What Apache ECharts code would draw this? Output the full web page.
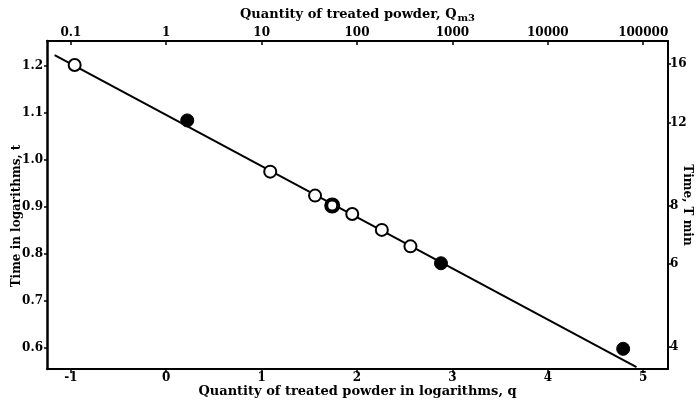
<!DOCTYPE html>
<html>
<head>
<meta charset="utf-8">
<script src="https://cdn.jsdelivr.net/npm/echarts@6/dist/echarts.min.js"></script>
<style>
html,body{margin:0;padding:0;background:#fff;}
#c{width:698px;height:405px;}
</style>
</head>
<body>
<div id="c"></div>
<script>
// Bottom axis: quantity in logarithms q
const qTicks = [-1, 0, 1, 2, 3, 4, 5];
// Top axis: quantity Q m3
const topTickLabels = ['0.1', '1', '10', '100', '1000', '10000', '100000'];
// Left axis: time in logarithms t
const tTicks = [0.6, 0.7, 0.8, 0.9, 1.0, 1.1, 1.2];
// Right axis: time T in minutes
const rightTickMinutes = [4, 6, 8, 12, 16];

// Open circles
const openQ = [-0.96, 1.09, 1.56, 1.95, 2.26, 2.56];
const openT = [1.202, 0.975, 0.924, 0.885, 0.851, 0.816];
// Partly filled circle
const halfQ = [1.74];
const halfT = [0.903];
// Filled circles
const filledQ = [0.22, 2.88, 4.79];
const filledT = [1.084, 0.780, 0.598];
// Fitted straight line
const fitQ = [-1.17, 4.93];
const fitT = [1.223, 0.559];

const zip = (a, b) => a.map((v, i) => [v, b[i]]);
const font = 'DejaVu Serif';
const ink = '#000';

const chart = echarts.init(document.getElementById('c'), null, {renderer: 'canvas'});
chart.setOption({
  animation: false,
  backgroundColor: '#fff',
  grid: {left: 47, right: 30, top: 41, bottom: 36, containLabel: false, outerBoundsMode: 'none'},
  xAxis: [{
    type: 'value', position: 'bottom', min: -1.25, max: 5.26,
    name: 'Quantity of treated powder in logarithms, q',
    nameLocation: 'middle', nameGap: 16, nameMoveOverlap: false,
    nameTextStyle: {fontFamily: font, fontWeight: 'bold', fontSize: 13, color: ink},
    axisLine: {show: true, onZero: false, lineStyle: {color: ink, width: 2}},
    axisTick: {show: true, customValues: qTicks, length: 4, lineStyle: {color: ink, width: 1.5}},
    axisLabel: {customValues: qTicks, margin: 3, fontFamily: font, fontWeight: 'bold', fontSize: 12, color: ink,
      formatter: v => String(Math.round(v))},
    splitLine: {show: false}
  }, {
    type: 'value', position: 'top', min: -1.25, max: 5.26,
    name: '{a|Quantity of treated powder, Q}{s|m3}',
    nameLocation: 'middle', nameGap: 18, nameMoveOverlap: false,
    nameTextStyle: {
      rich: {
        a: {fontFamily: font, fontWeight: 'bold', fontSize: 13, color: ink},
        s: {fontFamily: font, fontWeight: 'bold', fontSize: 10, color: ink, verticalAlign: 'bottom', padding: [6, 0, 0, 1]}
      }
    },
    axisLine: {show: true, onZero: false, lineStyle: {color: ink, width: 2}},
    axisTick: {show: true, inside: true, customValues: qTicks, length: 4, lineStyle: {color: ink, width: 1.5}},
    axisLabel: {customValues: qTicks, margin: 2, fontFamily: font, fontWeight: 'bold', fontSize: 12, color: ink,
      formatter: v => topTickLabels[qTicks.indexOf(Math.round(v))]},
    splitLine: {show: false}
  }],
  yAxis: [{
    type: 'value', position: 'left', min: 0.555, max: 1.253,
    name: 'Time in logarithms, t',
    nameLocation: 'middle', nameGap: 24, nameMoveOverlap: false,
    nameTextStyle: {fontFamily: font, fontWeight: 'bold', fontSize: 12, color: ink, padding: [0, 0, 0, -22]},
    axisLine: {show: true, onZero: false, lineStyle: {color: ink, width: 2.5}},
    axisTick: {show: true, customValues: tTicks, length: 3, lineStyle: {color: ink, width: 1.5}},
    axisLabel: {customValues: tTicks, margin: 4, fontFamily: font, fontWeight: 'bold', fontSize: 12, color: ink,
      formatter: v => v.toFixed(1)},
    splitLine: {show: false}
  }, {
    type: 'value', position: 'right', min: 0.555, max: 1.253,
    name: 'Time, T min',
    nameLocation: 'middle', nameGap: 13, nameRotate: -90, nameMoveOverlap: false,
    nameTextStyle: {fontFamily: font, fontWeight: 'bold', fontSize: 12, color: ink},
    axisLine: {show: true, onZero: false, lineStyle: {color: ink, width: 2}},
    axisTick: {show: true, customValues: rightTickMinutes.map(m => Math.log10(m)), length: 3, lineStyle: {color: ink, width: 1.5}},
    axisLabel: {customValues: rightTickMinutes.map(m => Math.log10(m)), margin: 2, fontFamily: font, fontWeight: 'bold', fontSize: 12, color: ink,
      formatter: v => String(Math.round(Math.pow(10, v)))},
    splitLine: {show: false}
  }],
  series: [{
    type: 'line', data: zip(fitQ, fitT), symbol: 'none', silent: true,
    lineStyle: {color: ink, width: 2}, z: 1
  }, {
    type: 'scatter', data: zip(openQ, openT), symbol: 'circle', symbolSize: 12,
    itemStyle: {color: '#fff', borderColor: ink, borderWidth: 2, opacity: 1}, z: 3
  }, {
    type: 'scatter', data: zip(halfQ, halfT), symbol: 'circle', symbolSize: 12,
    itemStyle: {color: '#fff', borderColor: ink, borderWidth: 4, opacity: 1}, z: 3
  }, {
    type: 'scatter', data: zip(filledQ, filledT), symbol: 'circle', symbolSize: 13,
    itemStyle: {color: ink, borderColor: ink, borderWidth: 1, opacity: 1}, z: 3
  }]
});
</script>
</body>
</html>
